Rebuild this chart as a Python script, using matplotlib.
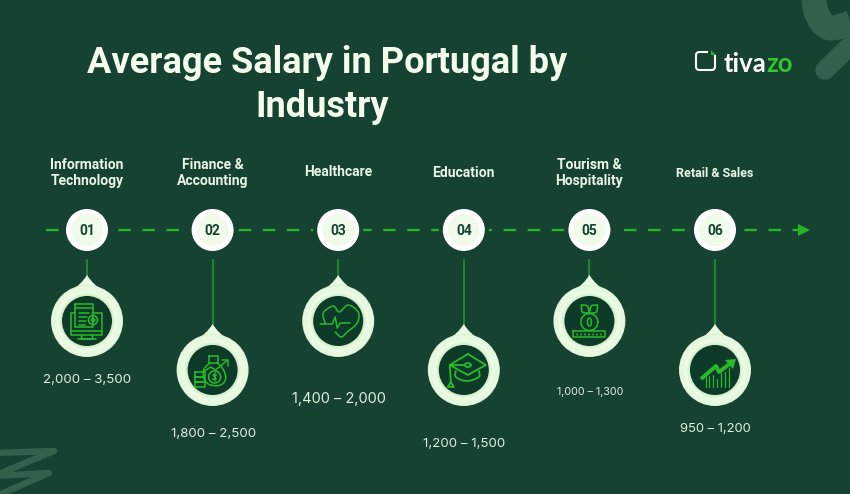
import matplotlib
matplotlib.use("Agg")
import matplotlib.pyplot as plt
from matplotlib.patches import Circle, PathPatch, FancyBboxPatch, Polygon, Rectangle
from matplotlib.path import Path
import numpy as np

categories = ["Information\nTechnology", "Finance &\nAccounting", "Healthcare", "Education",
              "Tourism &\nHospitality", "Retail & Sales"]
steps = ["01", "02", "03", "04", "05", "06"]
salaries = ["2,000 – 3,500", "1,800 – 2,500", "1,400 – 2,000", "1,200 – 1,500",
            "1,000 – 1,300", "950 – 1,200"]

BG = "#154231"
DARK = "#0e3b29"
GREEN = "#27b527"
ICON = "#2ab92a"
DECOR = "#33604b"
CREAM = "#f4fdec"

label_y = [173, 173, 172, 173, 173, 173]
label_size = [10, 10, 10, 10, 10, 9]
salary_y = [380, 434, 399, 444, 392, 429]
salary_size = [9.6, 9.6, 10.5, 9.55, 7.7, 9.4]
pendant_y = [321, 370, 321, 370, 321, 370]

fig = plt.figure(figsize=(8.5, 4.94), dpi=100, facecolor=BG)
ax = fig.add_axes([0, 0, 1, 1])
ax.set_xlim(0, 850)
ax.set_ylim(494, 0)
ax.axis("off")


def stroke(xs, ys, lw=3.0, color=ICON, z=6, cap="round"):
    ax.plot(xs, ys, color=color, lw=lw, zorder=z, solid_capstyle=cap, solid_joinstyle="round")


def icon_lines(cx, cy, segs, lw=1.1):
    for seg in segs:
        seg = np.array(seg, dtype=float)
        stroke(cx + seg[:, 0], cy + seg[:, 1], lw=lw)


def smooth(pts, n=14):
    # catmull-rom through a few points, only for the icon outlines
    pts = np.array(pts, dtype=float)
    p = np.vstack([pts[0], pts, pts[-1]])
    out = []
    for i in range(1, len(p) - 2):
        for t in np.linspace(0, 1, n):
            out.append(0.5 * ((2 * p[i]) + (p[i + 1] - p[i - 1]) * t
                              + (2 * p[i - 1] - 5 * p[i] + 4 * p[i + 1] - p[i + 2]) * t ** 2
                              + (3 * p[i] - p[i - 1] - 3 * p[i + 1] + p[i + 2]) * t ** 3))
    return out


def circle_pts(x, y, r, rx=None):
    a = np.linspace(0, 2 * np.pi, 40)
    return list(zip(x + (rx or r) * np.cos(a), y + r * np.sin(a)))


def rect_pts(x0, y0, x1, y1):
    return [(x0, y0), (x1, y0), (x1, y1), (x0, y1), (x0, y0)]


def icon_it(cx, cy):
    segs = [[(5, -8), (15, -8), (15, 14), (-16, 14), (-16, -8), (-12, -8)],
            [(-16, 10), (15, 10)], [(-5, 14), (-6, 18), (6, 18), (5, 14)], [(-9, 18), (9, 18)],
            rect_pts(-12, -17, 6, 6), [(-12, -13), (6, -13)],
            [(-8, -8), (2, -8)], [(-8, -4), (0, -4)], [(-8, 0), (-1, 0)], [(-8, 4), (-2, 4)],
            circle_pts(6, -1, 4.5), circle_pts(6, -1, 1.6)]
    icon_lines(cx, cy, segs)


def icon_finance(cx, cy):
    bag = smooth([(-3, -7), (-9, 0), (-8, 10), (-2, 15), (8, 15), (13, 9), (11, 0), (5, -7)])
    segs = [bag, rect_pts(-4, -14, 5, -7), circle_pts(2, 7, 6), [(2, 3), (2, 11)],
            [(4, 5), (0.5, 5), (3.5, 9), (0, 9)],
            [(-8, 1), (-2, -3), (3, 0), (14, -9)], [(9, -10), (15, -10), (15, -4)],
            rect_pts(-18, 2, -8, 7), rect_pts(-18, 7, -8, 12), rect_pts(-18, 12, -8, 17)]
    icon_lines(cx, cy, segs)


def icon_heart(cx, cy):
    heart = smooth([(-13, 2), (-15, -8), (-5, -15), (1, -9), (10, -16), (20, -9), (19, 2), (9, 11), (3, 16), (-3, 11)])
    segs = [heart, [(-18, 3), (-6, 3), (-3, -4), (-1, 7), (2, 2), (12, 2)]]
    icon_lines(cx, cy, segs)


def icon_cap(cx, cy):
    segs = [[(4, -16), (22, -5), (4, 5), (-14, -5), (4, -16)],
            [(-14, -5), (-13, 11)], [(-13, 12), (-16, 17), (-10, 17), (-13, 12)],
            [(-14, -5), (1, -5)], circle_pts(4, -5, 2, 3),
            smooth([(-8, 1), (-8, 7), (3, 11), (15, 7), (15, 1)])]
    icon_lines(cx, cy, segs, lw=1.3)


def icon_plant(cx, cy):
    segs = [rect_pts(-16, 10, 16, 16), circle_pts(0, 1, 8.5), circle_pts(0, 1, 4, 2),
            [(0, -7), (0, -12)],
            smooth([(0, -8), (-7, -9), (-8, -16)]), smooth([(-8, -16), (-2, -15), (0, -8)]),
            smooth([(0, -8), (7, -9), (8, -16)]), smooth([(8, -16), (2, -15), (0, -8)])]
    for tx in range(-12, 15, 4):
        segs.append([(tx, 12.5), (tx, 14)])
    icon_lines(cx, cy, segs)


def icon_growth(cx, cy):
    stroke(cx + np.array([-14, 1, 4, 17]), cy + np.array([9, -4, 2, -8]), lw=2.8, cap="butt")
    ax.add_patch(Polygon([(cx + 10, cy - 10), (cx + 21, cy - 11), (cx + 18, cy - 1)], fc=ICON, ec="none", zorder=6))
    for bx, top in zip([-9, -6, -2, 2, 6, 10, 14], [7, 6, 5, 9, 3, 2, -2]):
        stroke([cx + bx, cx + bx], [cy + top, cy + 17], lw=0.9)


icons = [icon_it, icon_finance, icon_heart, icon_cap, icon_plant, icon_growth]

# background decoration
stroke([-6, 54, -6, 49, -6], [453, 451, 476, 473, 497], lw=4.6, color=DECOR, z=1)
top_band = smooth([(813, -8), (817, 14), (830, 28), (858, 20)])
stroke([p[0] for p in top_band], [p[1] for p in top_band], lw=18, color=DECOR, z=1, cap="butt")
stroke([825, 860], [70, 36], lw=14, color=DECOR, z=1)

# title
ax.text(327, 63, "Average Salary in Portugal by", color=CREAM, fontsize=26, fontfamily="Roboto",
        fontweight="bold", ha="center", va="center")
ax.text(322, 107, "Industry", color=CREAM, fontsize=26, fontfamily="Roboto",
        fontweight="bold", ha="center", va="center")

# logo
ax.add_patch(FancyBboxPatch((696, 52), 19, 18, boxstyle="round,pad=0,rounding_size=3.5",
                            fc="none", ec="white", lw=1.5, zorder=4))
ax.add_patch(Rectangle((708, 48), 9, 7, fc=BG, ec="none", zorder=5))
ax.add_patch(Polygon([(711, 50), (716, 55), (711, 55)], fc=GREEN, ec="none", zorder=6))
ax.text(724, 62, "tiva", color="white", fontsize=18.5, fontfamily="Lato", fontweight="bold",
        ha="left", va="center_baseline")
ax.text(766, 62, "zo", color="#35c42b", fontsize=18.5, fontfamily="Lato", fontweight="bold",
        ha="left", va="center_baseline")

# timeline
ax.plot([46, 800], [230, 230], color=GREEN, lw=1.7, linestyle=(0, (5.3, 4.9)), zorder=2)
ax.add_patch(Polygon([(798, 224), (810, 230), (798, 236)], fc=GREEN, ec="none", zorder=3))

for i, name in enumerate(categories):
    cx = 87 + i * 125.6
    ax.text(cx, label_y[i], name, color="#e9f6e4", fontsize=label_size[i], fontfamily="Roboto",
            fontweight="bold", ha="center", va="center", linespacing=1.15)

    ax.add_patch(Circle((cx, 230), 25, fc=BG, ec="none", zorder=3))
    ax.add_patch(Circle((cx, 230), 21, fc="white", ec="none", zorder=4))
    ax.add_patch(Circle((cx, 230), 16, fc="#f1fbeb", ec="none", zorder=5))
    ax.text(cx, 230.5, steps[i], color=BG, fontsize=10, fontfamily="Roboto", fontweight="bold",
            ha="center", va="center", zorder=6)

    py = pendant_y[i]
    ax.plot([cx, cx], [260, py - 44], color="#259a28", lw=1.1, zorder=2)
    drop = Path([(cx - 17, py - 30), (cx - 6, py - 36), (cx, py - 46), (cx + 6, py - 36), (cx + 17, py - 30),
                 (cx - 17, py - 30)],
                [Path.MOVETO, Path.CURVE3, Path.LINETO, Path.CURVE3, Path.LINETO, Path.CLOSEPOLY])
    ax.add_patch(PathPatch(drop, fc="#eafae2", ec="none", zorder=3))
    for r, col in zip([36, 35.4, 31, 28, 26.5], ["#d5ebcf", "#e6f8dd", "#ecfbe5", "#e2f6d8", "#d2efc7"]):
        ax.add_patch(Circle((cx, py), r, fc=col, ec="none", zorder=4))
    ax.add_patch(Circle((cx, py), 25, fc=DARK, ec="none", zorder=5))
    icons[i](cx, py)

    ax.text(cx + 0.5, salary_y[i], salaries[i], color="#dfeedd", fontsize=salary_size[i], fontfamily="Inter",
            ha="center", va="center")

fig.savefig("out.png", dpi=100, facecolor=BG)
